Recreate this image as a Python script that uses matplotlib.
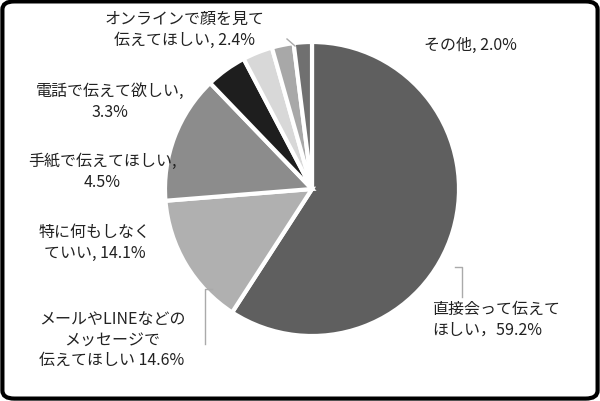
import matplotlib
matplotlib.use('Agg')
import matplotlib.pyplot as plt
from matplotlib.patches import FancyBboxPatch

plt.rcParams['font.family'] = ['Noto Sans CJK JP', 'DejaVu Sans']

labels = ['直接会って伝えて\nほしい，59.2%', 'メールやLINEなどの\nメッセージで\n伝えてほしい 14.6%',
          '特に何もしなく\nていい, 14.1%', '手紙で伝えてほしい,\n4.5%', '電話で伝えて欲しい,\n3.3%',
          'オンラインで顔を見て\n伝えてほしい, 2.4%', 'その他, 2.0%']
values = [59.2, 14.6, 14.1, 4.5, 3.3, 2.4, 2.0]
colors = ['#5f5f5f', '#b0b0b0', '#8c8c8c', '#1e1e1e', '#d8d8d8', '#a8a8a8', '#707070']
label_pos = [(432, 320), (112, 340), (95, 243), (102, 172), (110, 102), (185, 30), (470, 45)]
label_ha = ['left', 'center', 'center', 'center', 'center', 'center', 'center']

fig = plt.figure(figsize=(6, 4.02), dpi=100)
fig.patches.append(FancyBboxPatch((0.004, 0.006), 0.992, 0.988, boxstyle='round,pad=0,rounding_size=0.02',
                                  transform=fig.transFigure, fill=False, lw=3, ec='black'))
r = 147
ax = fig.add_axes([(312 - r) / 600, 1 - (190 + r) / 402, 2 * r / 600, 2 * r / 402])
ax.pie(values, colors=colors, startangle=90, counterclock=False,
       wedgeprops=dict(edgecolor='white', linewidth=3))
ax.set_xlim(-1, 1)
ax.set_ylim(-1, 1)
ax.set_aspect('equal')

for lab, (x, y), ha in zip(labels, label_pos, label_ha):
    fig.text(x / 600, 1 - y / 402, lab, ha=ha, va='center', fontsize=11.5, color='#222222', linespacing=1.3)

# leader lines
fig.add_artist(plt.Line2D([287 / 600, 295 / 600], [1 - 40 / 402, 1 - 47 / 402], color='#aaaaaa', lw=1))
fig.add_artist(plt.Line2D([212 / 600, 205 / 600, 205 / 600], [1 - 290 / 402, 1 - 290 / 402, 1 - 345 / 402],
                          color='#aaaaaa', lw=1))
fig.add_artist(plt.Line2D([455 / 600, 462 / 600, 462 / 600], [1 - 268 / 402, 1 - 268 / 402, 1 - 298 / 402],
                          color='#aaaaaa', lw=1))

fig.savefig('out.png', dpi=100)
